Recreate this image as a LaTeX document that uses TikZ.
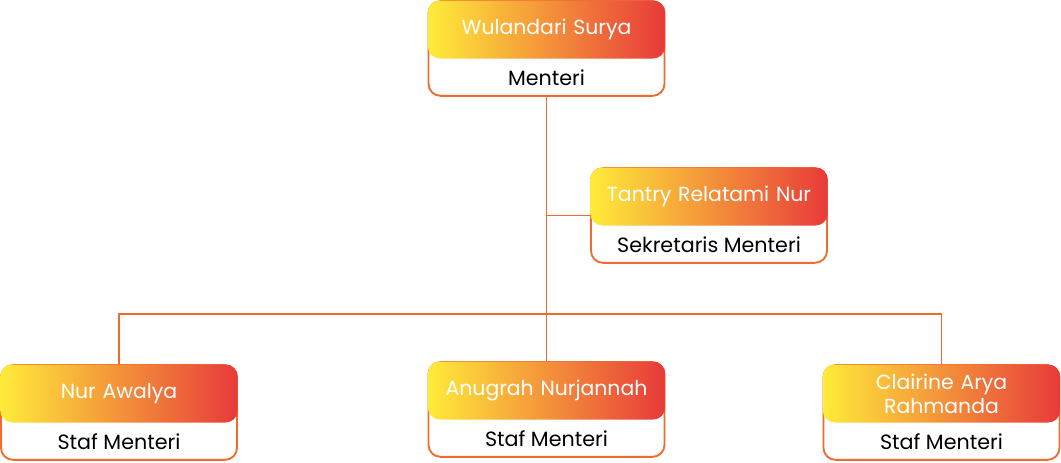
\documentclass[tikz,border=0pt]{standalone}
\usepackage{fontspec}
\setmainfont{Poppins}
\usetikzlibrary{positioning}

\definecolor{lineorange}{HTML}{EF6C2E}
\definecolor{gradyellow}{HTML}{FFEB3A}
\definecolor{gradorange}{HTML}{F5A23F}
\definecolor{gradred}{HTML}{E83A3A}

\begin{document}
\begin{tikzpicture}[
    x=0.75pt, y=-0.75pt,
    card/.style={rectangle, draw=lineorange, line width=1.4pt, fill=white, rounded corners=9pt, minimum width=177pt, minimum height=71pt},
    head/.style={rectangle, rounded corners=9pt, minimum width=178pt, minimum height=43.5pt, inner sep=2pt,
        left color=gradyellow, middle color=gradorange, right color=gradred,
        text=white, font=\fontsize{15.3}{18}\selectfont, align=center, text width=172pt},
    role/.style={minimum height=28pt, inner sep=0pt, font=\fontsize{15.5}{18}\selectfont},
    conn/.style={draw=lineorange, line width=1.2pt}
]
\useasboundingbox (0,0) rectangle (1061,462);

% cards
\node (menteri) [card] at (546.5,48.5) {};
\node (sekretaris) [card] at (709,215.5) {};
\node (staf1) [card] at (119,412.5) {};
\node (staf2) [card] at (546.5,409.5) {};
\node (staf3) [card] at (941.5,412.5) {};

% connectors
\draw [conn] (menteri.south) -- (staf2.north);
\draw [conn] (menteri.south |- sekretaris.west) -- (sekretaris.west);
\coordinate (bus) at (546.5,314);
\draw [conn] (staf1.north) |- (bus) -| (staf3.north);

% headers
\node (menterihead) [head, anchor=north] at (menteri.north) {Wulandari Surya};
\node (sekretarishead) [head, anchor=north] at (sekretaris.north) {Tantry Relatami Nur};
\node (staf1head) [head, anchor=north] at (staf1.north) {Nur Awalya};
\node (staf2head) [head, anchor=north] at (staf2.north) {Anugrah Nurjannah};
\node (staf3head) [head, anchor=north] at (staf3.north) {Clairine Arya\\Rahmanda};

% roles
\node (menterirole) [role, below=0pt of menterihead] {Menteri};
\node (sekretarisrole) [role, below=0pt of sekretarishead] {Sekretaris Menteri};
\node (staf1role) [role, below=0pt of staf1head] {Staf Menteri};
\node (staf2role) [role, below=0pt of staf2head] {Staf Menteri};
\node (staf3role) [role, below=0pt of staf3head] {Staf Menteri};

\end{tikzpicture}
\end{document}
